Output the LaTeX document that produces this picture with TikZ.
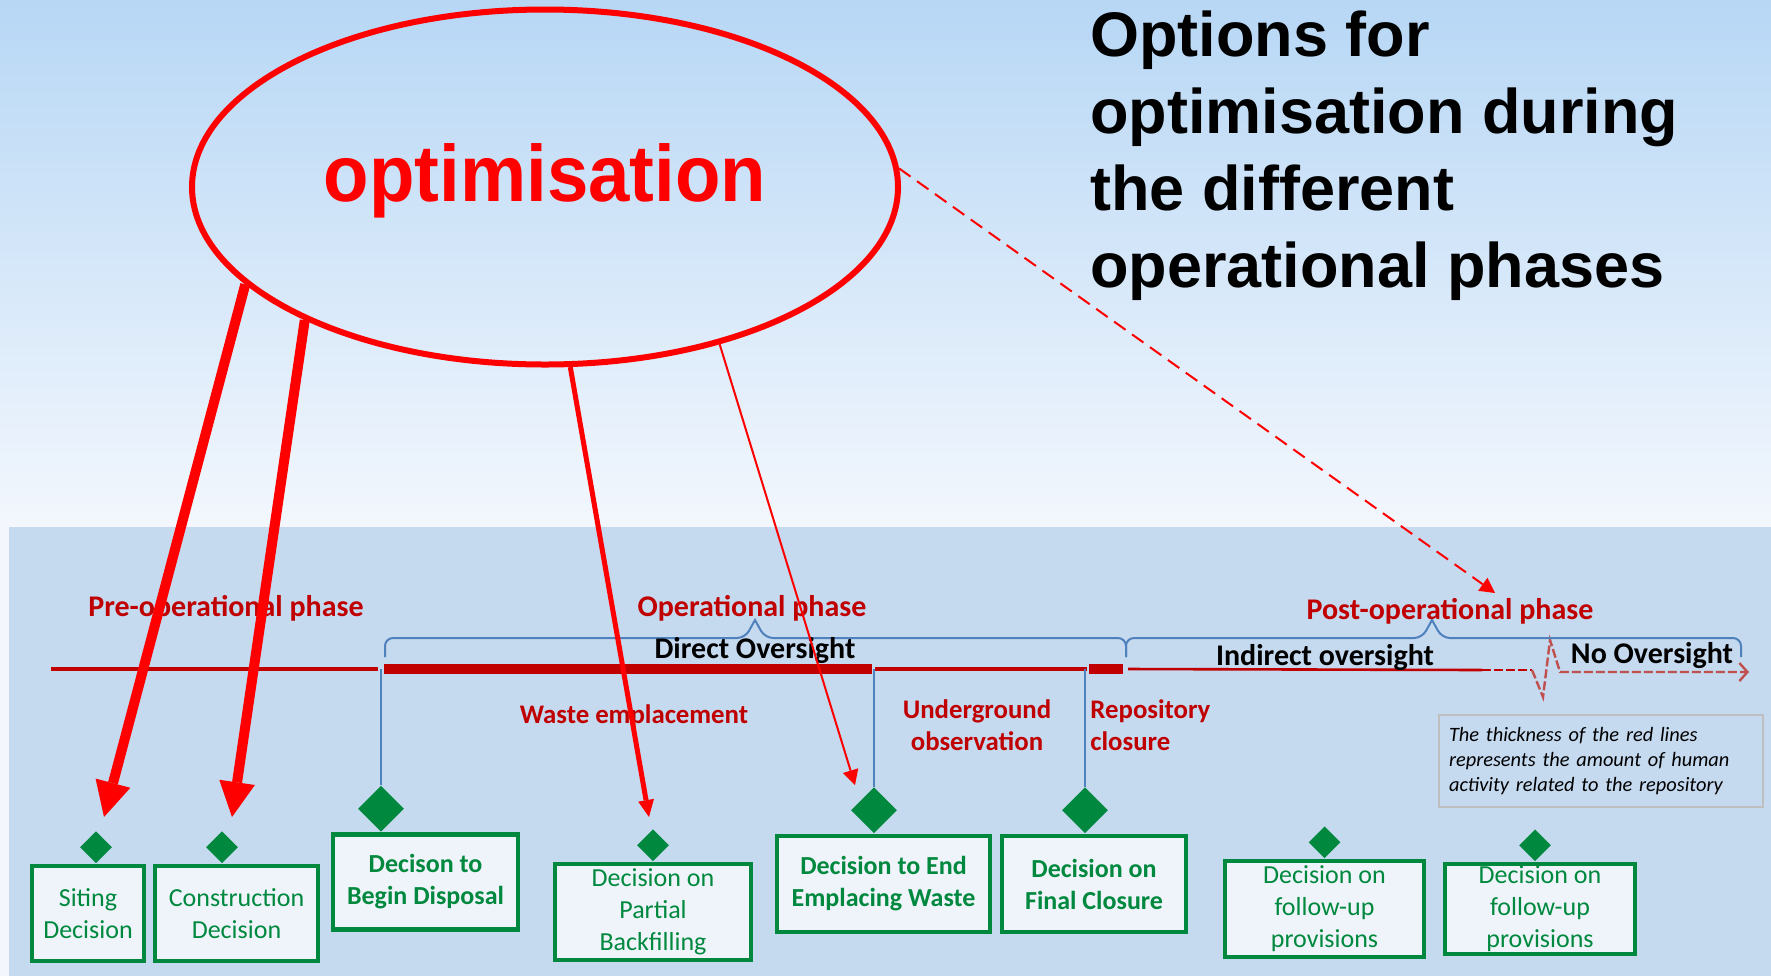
\documentclass[tikz,border=0pt]{standalone}
\usepackage{fontspec}
\usepackage{xcolor}
\usepackage{tikz}
\usetikzlibrary{arrows.meta,shapes.geometric,positioning,calc}

\newfontfamily\arialfont{Liberation Sans}
\newfontfamily\optfont[FakeStretch=0.93]{Liberation Sans}
\newfontfamily\calibfont{Carlito}

\definecolor{skytop}{HTML}{B7D7F5}
\definecolor{skybot}{HTML}{F3F7FD}
\definecolor{panelblue}{HTML}{C5D9EF}
\definecolor{optred}{HTML}{FF0000}
\definecolor{lifered}{HTML}{C00000}
\definecolor{fadered}{HTML}{C0504D}
\definecolor{decgreen}{HTML}{00893E}
\definecolor{boxfill}{HTML}{EEF4FA}
\definecolor{bracebl}{HTML}{4F81BD}
\definecolor{notegray}{HTML}{BFBFBF}

\begin{document}
\begin{tikzpicture}[
        x=0.5pt, y=-0.5pt,
        decbox/.style={rectangle,draw=decgreen,fill=boxfill,line width=2.3pt,
                       text=decgreen,align=center,inner sep=0pt,
                       font=\calibfont\fontsize{13}{16}\selectfont},
        decboxb/.style={decbox,font=\calibfont\bfseries\fontsize{13}{16}\selectfont},
        smalldia/.style={diamond,fill=decgreen,inner sep=0pt,
                         minimum width=16pt,minimum height=16pt},
        bigdia/.style={diamond,fill=decgreen,inner sep=0pt,
                       minimum width=23pt,minimum height=23pt},
        phase/.style={text=lifered,align=center,inner sep=0pt,
                      font=\calibfont\bfseries\fontsize{15}{16}\selectfont},
        stage/.style={phase,font=\calibfont\bfseries\fontsize{13.4}{16}\selectfont},
        oversight/.style={text=black,inner sep=0pt,
                          font=\calibfont\bfseries\fontsize{15}{16}\selectfont},
        bline/.style={draw=bracebl,line width=1pt},
        bigarrow/.style={optred,line width=5pt,
                         -{Triangle[length=17.5pt,width=18pt,line width=0pt]}},
        midarrow/.style={optred,line width=2.5pt,
                         -{Triangle[length=8.5pt,width=8pt,line width=0pt]}},
        thinarrow/.style={optred,line width=1pt,
                          -{Triangle[length=7.5pt,width=8pt,line width=0pt]}}
      ]
      \useasboundingbox (0,0) rectangle (1771,976);
      \shade[top color=skytop,bottom color=skybot] (0,0) rectangle (1771,527);
      \fill[skybot] (0,527) rectangle (9,976);
      \fill[panelblue] (9,527) rectangle (1771,976);

      \node[ellipse,draw=optred,line width=3pt,minimum width=353pt,minimum height=177.5pt,
            text=optred,text depth=14pt,font=\optfont\bfseries\fontsize{40}{42}\selectfont] (optim) at (545,187) {optimisation};
      \node[anchor=north west,inner sep=0pt,align=left,
            font=\arialfont\bfseries\fontsize{31.5}{38.5}\selectfont] (title) at (1090,10)
            {Options for\\optimisation during\\the different\\operational phases};

      \coordinate (tla) at (51,669);
      \coordinate (tlb) at (378,669);
      \coordinate (tlc) at (384,669);
      \coordinate (tld) at (872,669);
      \coordinate (tle) at (875,669);
      \coordinate (tlf) at (1087,669);
      \coordinate (tlg) at (1089,669);
      \coordinate (tlh) at (1123,669);
      \coordinate (tli) at (1128,669);
      \coordinate (tlj) at (1482,670);
      \coordinate (tlk) at (1532,670);
      \coordinate (tlend) at (1749,672);
      \draw[lifered,line width=2.2pt] (tla) -- (tlb);
      \draw[lifered,line width=5pt] (tlc) -- (tld);
      \draw[lifered,line width=2pt] (tle) -- (tlf);
      \draw[lifered,line width=5pt] (tlg) -- (tlh);
      \draw[lifered,line width=1.3pt] (tli) -- (tlj);
      \draw[lifered,line width=1.3pt,dash pattern=on 4.5pt off 1.5pt] (tlj) -- (tlk);
      \draw[fadered,line width=1.2pt,dash pattern=on 4.5pt off 1.5pt,
            -{Straight Barb[length=4pt,width=9pt]}] (tlk) -- (1543,697) -- (1550,640) -- (1560,672) -- (tlend);

      \draw[bline] (385,657) [rounded corners=4pt] -- (385,638) -- (745,638) [sharp corners] -- (755,620)
                   [rounded corners=4pt] -- (765,638) -- (1126,638) -- (1126,657);
      \draw[bline] (1126,657) [rounded corners=4pt] -- (1126,638) -- (1422,638) [sharp corners] -- (1432,620)
                   [rounded corners=4pt] -- (1442,638) -- (1741,638) -- (1741,657);

      \node[phase] (prephase) at (226,608) {Pre-operational phase};
      \node[phase] (opphase) at (752,608) {Operational phase};
      \node[phase] (postphase) at (1450,611) {Post-operational phase};
      \node[oversight] (direct) at (755,651) {Direct Oversight};
      \node[oversight] (indirect) at (1325,658) {Indirect oversight};
      \node[oversight] (noover) at (1652,655) {No Oversight};
      \node[stage] (emplace) at (634,716) {Waste emplacement};
      \node[stage] (underground) at (977,725) {Underground\\observation};
      \node[stage,anchor=west,align=left] (closure) at (1090,725) {Repository\\closure};

      \node[decbox,minimum width=56pt,minimum height=47.5pt] (siting) at (88,913.5) {Siting\\Decision};
      \node[decbox,minimum width=81.5pt,minimum height=47.5pt] (constr) at (236.5,913.5) {Construction\\Decision};
      \node[decboxb,minimum width=92.5pt,minimum height=47.5pt] (begin) at (425.5,882) {Decison to\\Begin Disposal};
      \node[decbox,minimum width=98pt,minimum height=48pt] (partial) at (653,912) {Decision on\\Partial\\Backfilling};
      \node[decboxb,minimum width=106.5pt,minimum height=48pt] (endemp) at (883.5,884) {Decision to End\\Emplacing Waste};
      \node[decboxb,minimum width=92pt,minimum height=48pt] (final) at (1094,884) {Decision on\\Final Closure};
      \node[decbox,minimum width=99.5pt,minimum height=48pt] (followa) at (1324.5,909) {Decision on\\follow-up\\provisions};
      \node[decbox,minimum width=95pt,minimum height=45pt] (followb) at (1540,909) {Decision on\\follow-up\\provisions};

      \node[smalldia,above=0pt of siting.north,xshift=4pt] (sitingdia) {};
      \node[smalldia,above=0pt of constr.north,xshift=-7.25pt] (constrdia) {};
      \node[bigdia,above=0pt of begin.north,xshift=-22.25pt] (begindia) {};
      \node[smalldia,above=0pt of partial.north] (partialdia) {};
      \node[bigdia,above=0pt of endemp.north,xshift=-4.75pt] (endempdia) {};
      \node[bigdia,above=0pt of final.north,xshift=-4.5pt] (finaldia) {};
      \node[smalldia,above=0pt of followa.north] (followadia) {};
      \node[smalldia,above=0pt of followb.north,xshift=-2.5pt] (followbdia) {};

      \draw[bline] (begindia.north) -- (begindia.north |- tlc);
      \draw[bline] (endempdia.north) -- (endempdia.north |- tlc);
      \draw[bline] (finaldia.north) -- (finaldia.north |- tlc);

      \node[draw=notegray,line width=1pt,text width=152pt,minimum height=46pt,inner xsep=5pt,
            align=left,font=\calibfont\itshape\fontsize{10.2}{12.5}\selectfont] (note) at (1601,761)
            {The thickness of the red lines\\represents the amount of human\\activity related to the repository};

      \coordinate (sitingtip) at (104,817);
      \coordinate (constrtip) at (232,817);
      \coordinate (partialtip) at (649,817);
      \coordinate (endemptip) at (855,785);
      \coordinate (posttip) at (1495,593);
      \draw[bigarrow] (optim.198.7) -- (sitingtip);
      \draw[bigarrow] (optim.209.5) -- (constrtip);
      \draw[midarrow] (optim.278.5) -- (partialtip);
      \draw[thinarrow] (optim.318.2) -- (endemptip);
      \draw[thinarrow,dash pattern=on 7pt off 4pt] (optim.3.3) -- (posttip);
    \end{tikzpicture}
\end{document}
